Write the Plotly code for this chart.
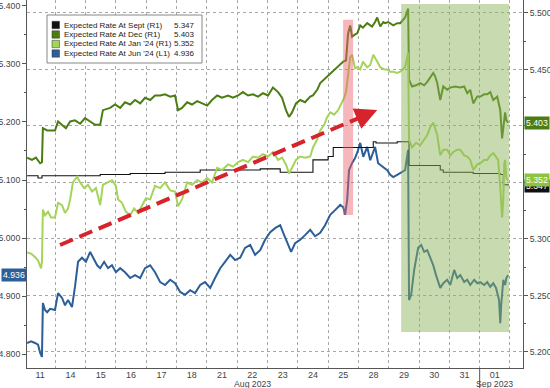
import plotly.graph_objects as go

# ---------------- data (trading-day index, value) ----------------
day_labels = ["11", "14", "15", "16", "17", "18", "21", "22", "23", "24", "25", "28", "29", "30", "31", "01"]
month_labels = {7: "Aug 2023", 15: "Sep 2023"}

right_ticks = [5.20, 5.25, 5.30, 5.35, 5.40, 5.45, 5.50]
right_ticktext = ["5.200", "5.250", "5.300", "", "", "5.450", "5.500"]  # 5.350/5.400 sit under value tags

series_names = ["Expected Rate At Sept (R1)", "Expected Rate At Dec (R1)",
                "Expected Rate At Jan '24 (R1)", "Expected Rate At Jun '24 (L1)"]
last_values = ["5.347", "5.403", "5.352", "4.936"]

t_sep = [0.07, 0.43, 0.56, 2.48, 3.47, 4.62, 5.78, 7.76, 8.42, 9.50, 10.0, 10.17, 10.73,
         11.49, 11.58, 12.28, 12.67, 13.70, 13.80, 14.79, 15.68, 15.78, 15.94]
sep = [5.356, 5.354, 5.356, 5.357, 5.358, 5.359, 5.361, 5.362, 5.359, 5.370, 5.373, 5.381, 5.381,
       5.386, 5.385, 5.386, 5.365, 5.361, 5.359, 5.358, 5.357, 5.348, 5.347]

t_dec = [0.07, 0.23, 0.36, 0.50, 0.56, 0.59, 0.73, 0.99, 1.09, 1.22, 1.35, 1.49, 1.65, 1.82, 1.98,
         2.15, 2.31, 2.48, 2.57, 2.81, 2.97, 3.14, 3.30, 3.47, 3.63, 3.80, 3.96, 4.13, 4.29, 4.46,
         4.62, 4.79, 4.95, 5.05, 5.18, 5.35, 5.51, 5.68, 5.84, 6.01, 6.17, 6.34, 6.50, 6.70, 6.86,
         7.03, 7.19, 7.36, 7.52, 7.69, 7.85, 8.02, 8.18, 8.35, 8.48, 8.61, 8.71, 8.81, 8.94, 9.08,
         9.24, 9.41, 9.50, 9.64, 9.74, 9.90, 10.07, 10.23, 10.30, 10.40, 10.50, 10.59, 10.66, 10.73,
         10.79, 10.89, 10.96, 11.06, 11.15, 11.29, 11.45, 11.55, 11.62, 11.72, 11.82, 11.88, 11.98,
         12.15, 12.28, 12.38, 12.48, 12.54, 12.64, 12.67, 12.77, 12.90, 13.04, 13.17, 13.27, 13.37,
         13.47, 13.53, 13.60, 13.70, 13.80, 13.93, 14.03, 14.19, 14.36, 14.49, 14.59, 14.69, 14.79,
         14.92, 15.02, 15.15, 15.25, 15.35, 15.45, 15.58, 15.68, 15.74, 15.81, 15.84, 15.88, 15.94]
dec = [5.372, 5.370, 5.372, 5.367, 5.368, 5.398, 5.396, 5.396, 5.404, 5.401, 5.398, 5.404, 5.405, 5.402, 5.407,
       5.404, 5.401, 5.401, 5.414, 5.416, 5.419, 5.416, 5.421, 5.419, 5.423, 5.420, 5.425, 5.423, 5.427, 5.427,
       5.428, 5.426, 5.427, 5.414, 5.416, 5.421, 5.419, 5.422, 5.420, 5.418, 5.423, 5.427, 5.425, 5.427, 5.425,
       5.427, 5.430, 5.427, 5.428, 5.426, 5.429, 5.427, 5.434, 5.430, 5.425, 5.414, 5.408, 5.412, 5.420, 5.423,
       5.421, 5.426, 5.427, 5.432, 5.438, 5.442, 5.446, 5.450, 5.452, 5.455, 5.457, 5.458, 5.482, 5.489,
       5.479, 5.481, 5.482, 5.489, 5.487, 5.491, 5.488, 5.492, 5.496, 5.488, 5.492, 5.491, 5.492,
       5.489, 5.491, 5.491, 5.494, 5.496, 5.504, 5.441, 5.435, 5.436, 5.438, 5.436, 5.439, 5.443,
       5.447, 5.444, 5.438, 5.423, 5.435, 5.432, 5.434, 5.435, 5.434, 5.435, 5.429, 5.432, 5.420,
       5.426, 5.426, 5.428, 5.428, 5.430, 5.423, 5.426, 5.414, 5.389, 5.405, 5.412, 5.405, 5.403]

t_jan = [0.07, 0.20, 0.33, 0.43, 0.53, 0.56, 0.59, 0.66, 0.76, 0.86, 0.99, 1.09, 1.22, 1.32, 1.42, 1.49,
         1.58, 1.72, 1.82, 1.95, 2.08, 2.21, 2.34, 2.48, 2.57, 2.71, 2.87, 3.00, 3.07, 3.20, 3.33, 3.47,
         3.60, 3.73, 3.86, 3.99, 4.13, 4.29, 4.46, 4.62, 4.79, 4.95, 5.05, 5.18, 5.35, 5.51, 5.68, 5.84,
         6.01, 6.17, 6.34, 6.50, 6.70, 6.86, 7.03, 7.19, 7.36, 7.52, 7.69, 7.85, 8.02, 8.18, 8.35, 8.48,
         8.61, 8.71, 8.81, 8.94, 9.08, 9.24, 9.41, 9.50, 9.64, 9.74, 9.87, 9.97, 10.07, 10.20, 10.33,
         10.43, 10.53, 10.59, 10.66, 10.73, 10.79, 10.89, 10.96, 11.06, 11.15, 11.29, 11.39, 11.49,
         11.62, 11.72, 11.85, 11.95, 12.05, 12.15, 12.28, 12.38, 12.54, 12.64, 12.67, 12.77, 12.90,
         13.04, 13.17, 13.27, 13.37, 13.47, 13.53, 13.60, 13.70, 13.80, 13.93, 14.03, 14.13, 14.26,
         14.36, 14.49, 14.59, 14.69, 14.79, 14.92, 15.02, 15.15, 15.25, 15.35, 15.45, 15.54, 15.61,
         15.68, 15.74, 15.78, 15.81, 15.84, 15.88, 15.94]
jan = [5.288, 5.287, 5.284, 5.281, 5.274, 5.280, 5.326, 5.321, 5.324, 5.319, 5.319, 5.332, 5.330, 5.323, 5.327, 5.335,
       5.350, 5.355, 5.350, 5.345, 5.348, 5.342, 5.345, 5.330, 5.348, 5.350, 5.352, 5.347, 5.335, 5.332, 5.324, 5.321,
       5.327, 5.323, 5.330, 5.336, 5.335, 5.347, 5.345, 5.350, 5.343, 5.342, 5.329, 5.335, 5.350, 5.348, 5.352, 5.350,
       5.354, 5.350, 5.363, 5.361, 5.366, 5.364, 5.368, 5.370, 5.368, 5.373, 5.372, 5.375, 5.373, 5.377, 5.370, 5.372,
       5.366, 5.358, 5.363, 5.370, 5.373, 5.372, 5.373, 5.381, 5.388, 5.396, 5.401, 5.408, 5.412, 5.410, 5.414,
       5.419, 5.425, 5.430, 5.445, 5.461, 5.463, 5.451, 5.452, 5.450, 5.457, 5.452, 5.454, 5.463,
       5.457, 5.452, 5.450, 5.450, 5.448, 5.448, 5.447, 5.448, 5.452, 5.465, 5.388, 5.381, 5.385,
       5.383, 5.388, 5.392, 5.399, 5.403, 5.398, 5.392, 5.374, 5.379, 5.379, 5.374, 5.377, 5.379,
       5.379, 5.374, 5.373, 5.370, 5.361, 5.366, 5.367, 5.370, 5.370, 5.374, 5.376, 5.372, 5.370,
       5.346, 5.319, 5.335, 5.366, 5.370, 5.354, 5.352]

t_jun = [0.07, 0.20, 0.33, 0.43, 0.50, 0.56, 0.59, 0.66, 0.73, 0.83, 0.99, 1.09, 1.22, 1.32, 1.42, 1.55,
         1.65, 1.75, 1.88, 2.01, 2.15, 2.28, 2.38, 2.48, 2.61, 2.74, 2.87, 3.00, 3.14, 3.30, 3.47, 3.63,
         3.80, 3.96, 4.13, 4.29, 4.46, 4.62, 4.79, 4.95, 5.12, 5.28, 5.45, 5.61, 5.78, 5.94, 6.11, 6.27,
         6.44, 6.60, 6.77, 6.93, 7.10, 7.26, 7.43, 7.59, 7.76, 7.92, 8.09, 8.25, 8.42, 8.55, 8.68, 8.78,
         8.91, 9.08, 9.24, 9.41, 9.57, 9.74, 9.90, 10.07, 10.23, 10.40, 10.50, 10.56, 10.63, 10.69,
         10.79, 10.89, 10.96, 11.06, 11.16, 11.29, 11.39, 11.55, 11.65, 11.82, 11.95, 12.05, 12.15,
         12.28, 12.38, 12.54, 12.64, 12.67, 12.74, 12.84, 12.97, 13.07, 13.17, 13.27, 13.37, 13.47,
         13.56, 13.70, 13.80, 13.93, 14.03, 14.16, 14.26, 14.36, 14.49, 14.59, 14.69, 14.82, 14.92,
         15.02, 15.15, 15.25, 15.35, 15.45, 15.54, 15.64, 15.68, 15.71, 15.78, 15.84, 15.88, 15.94]
jun = [4.819, 4.822, 4.819, 4.816, 4.802, 4.795, 4.888, 4.876, 4.872, 4.878, 4.876, 4.905, 4.897, 4.884, 4.893, 4.881,
       4.916, 4.959, 4.966, 4.959, 4.976, 4.962, 4.953, 4.948, 4.959, 4.948, 4.953, 4.941, 4.948, 4.941, 4.931, 4.936,
       4.931, 4.948, 4.953, 4.941, 4.924, 4.919, 4.928, 4.922, 4.907, 4.902, 4.910, 4.905, 4.919, 4.924, 4.914, 4.931,
       4.948, 4.959, 4.971, 4.962, 4.966, 4.983, 4.988, 4.971, 4.979, 4.997, 5.010, 5.017, 5.022, 5.005, 4.988, 4.976,
       4.991, 4.997, 5.005, 5.014, 5.003, 5.009, 5.022, 5.040, 5.048, 5.057, 5.053, 5.040, 5.066, 5.117,
       5.129, 5.138, 5.147, 5.164, 5.140, 5.157, 5.134, 5.157, 5.129, 5.122, 5.117, 5.109, 5.105,
       5.109, 5.112, 5.117, 5.152, 4.893, 4.902, 4.945, 4.983, 4.988, 4.976, 4.979, 4.966, 4.953,
       4.936, 4.914, 4.922, 4.928, 4.919, 4.945, 4.931, 4.936, 4.924, 4.928, 4.919, 4.928, 4.922,
       4.924, 4.919, 4.924, 4.916, 4.922, 4.914, 4.893, 4.853, 4.884, 4.928, 4.919, 4.931, 4.936]

# ---------------- styles ----------------
C_SEP, C_DEC, C_JAN, C_JUN = "#111111", "#4b7d12", "#a4d45a", "#2c5f97"
FONT = "Liberation Sans"
GRID = "#a8a8a8"
AXC = "#555555"
TXT = "#444444"

fig = go.Figure()
fig.add_trace(go.Scatter(x=t_sep, y=sep, yaxis="y2", mode="lines",
                         line=dict(color=C_SEP, width=1.1, shape="hv"), showlegend=False))
fig.add_trace(go.Scatter(x=t_dec, y=dec, yaxis="y2", mode="lines",
                         line=dict(color=C_DEC, width=2), showlegend=False))
fig.add_trace(go.Scatter(x=t_jan, y=jan, yaxis="y2", mode="lines",
                         line=dict(color=C_JAN, width=2), showlegend=False))
fig.add_trace(go.Scatter(x=t_jun, y=jun, yaxis="y", mode="lines",
                         line=dict(color=C_JUN, width=2), showlegend=False))

tickvals = [i + 0.5 for i in range(len(day_labels))]

fig.update_layout(
    template="none",
    width=550, height=388,
    margin=dict(l=27, r=27, t=0, b=20, pad=0),
    paper_bgcolor="white", plot_bgcolor="white",
    font=dict(family=FONT, size=9, color=TXT),
    hovermode=False,
    xaxis=dict(range=[0.066, 16.43], tickmode="array", tickvals=tickvals, ticktext=day_labels,
               ticks="", ticklen=0, showgrid=False, zeroline=False, showline=True, linecolor=AXC,
               automargin=False, ticklabelstandoff=-2,
               tickfont=dict(family=FONT, size=9, color=TXT),
               minor=dict(tick0=0, dtick=1, showgrid=True, griddash="dot", gridcolor=GRID, gridwidth=1)),
    yaxis=dict(range=[4.7759, 5.4103], tick0=4.8, dtick=0.1, tickformat=".3f", ticks="outside",
               ticklen=4, tickcolor=AXC, showgrid=False, zeroline=False, showline=True, linecolor=AXC,
               automargin=False, tickfont=dict(family=FONT, size=8.7, color=TXT),
               minor=dict(dtick=0.05, tick0=4.8, ticks="outside", ticklen=2, tickcolor=AXC)),
    yaxis2=dict(range=[5.1858, 5.5115], overlaying="y", side="right", tickmode="array",
                tickvals=right_ticks, ticktext=right_ticktext, ticks="outside", ticklen=4,
                tickcolor=AXC, showgrid=True, griddash="dot", gridcolor=GRID, zeroline=False,
                showline=True, linecolor=AXC, automargin=False,
                tickfont=dict(family=FONT, size=8.7, color=TXT),
                minor=dict(dtick=0.025, tick0=5.2, ticks="outside", ticklen=2, tickcolor=AXC)),
)

shapes = []
# highlight bands (drawn above lines, semi-transparent)
shapes.append(dict(type="rect", xref="x", yref="paper", x0=10.495, x1=10.825, y0=0.416, y1=0.946,
                   fillcolor="rgb(232,95,105)", opacity=0.45, line=dict(width=0), layer="above"))
shapes.append(dict(type="rect", xref="x", yref="paper", x0=12.41, x1=15.97, y0=0.098, y1=0.989,
                   fillcolor="rgb(140,180,90)", opacity=0.48, line=dict(width=0), layer="above"))
# month boundary tick
shapes.append(dict(type="line", xref="x", yref="paper", x0=15, x1=15, y0=0, y1=-0.058,
                   line=dict(color=AXC, width=1)))
# red dashed trend arrow
shapes.append(dict(type="line", xref="x", yref="y", x0=1.155, y0=4.988, x1=11.2, y1=5.211,
                   line=dict(color="#d6232c", width=4, dash="14px,7px"), layer="above"))


def px_x(p):
    return (p - 27) / 496.0


def px_y(p):
    return 1 - p / 368.0


# legend box
shapes.append(dict(type="rect", xref="paper", yref="paper", x0=px_x(47), x1=px_x(202),
                   y0=px_y(63), y1=px_y(15), fillcolor="white", line=dict(color="#888", width=1),
                   layer="above"))
rows = [25, 34.5, 44, 53.5]
colors = [C_SEP, C_DEC, C_JAN, C_JUN]
annotations = []
for r, c, name, val in zip(rows, colors, series_names, last_values):
    shapes.append(dict(type="rect", xref="paper", yref="paper", x0=px_x(52), x1=px_x(59.5),
                       y0=px_y(r + 3.7), y1=px_y(r - 3.7), fillcolor=c,
                       line=dict(color="#333", width=0.5), layer="above"))
    annotations.append(dict(xref="paper", yref="paper", x=px_x(61.5), y=px_y(r), text=name,
                            showarrow=False, xanchor="left", yanchor="middle",
                            font=dict(family=FONT, size=8, color="#222")))
    annotations.append(dict(xref="paper", yref="paper", x=px_x(197), y=px_y(r), text=val,
                            showarrow=False, xanchor="right", yanchor="middle",
                            font=dict(family=FONT, size=8, color="#222")))

# month labels under the day ticks
for i, m in month_labels.items():
    annotations.append(dict(xref="x", yref="paper", x=i + 0.5, y=px_y(383.5), text=m, showarrow=False,
                            xanchor="center", yanchor="middle", font=dict(family=FONT, size=8.7, color=TXT)))

# arrow head
annotations.append(dict(xref="x", yref="y", x=11.62, y=5.2207, ax=-14, ay=6, showarrow=True,
                        arrowhead=2, arrowsize=1.1, arrowwidth=4, arrowcolor="#d6232c", text=""))

# axis value tags
annotations.append(dict(xref="paper", yref="y", x=0, y=float(last_values[3]), text=last_values[3],
                        showarrow=False, xanchor="right", yanchor="middle", bgcolor=C_JUN,
                        borderpad=1, font=dict(family=FONT, size=8.7, color="white")))
annotations.append(dict(xref="paper", yref="y2", x=1, y=float(last_values[0]), text=last_values[0],
                        showarrow=False, xanchor="left", yanchor="middle", bgcolor=C_SEP,
                        borderpad=1, xshift=1, font=dict(family=FONT, size=8.7, color="white")))
annotations.append(dict(xref="paper", yref="y2", x=1, y=float(last_values[2]), text=last_values[2],
                        showarrow=False, xanchor="left", yanchor="middle", bgcolor="#8cc43f",
                        borderpad=1, xshift=1, font=dict(family=FONT, size=8.7, color="white")))
annotations.append(dict(xref="paper", yref="y2", x=1, y=float(last_values[1]), text=last_values[1],
                        showarrow=False, xanchor="left", yanchor="middle", bgcolor=C_DEC,
                        borderpad=1, xshift=1, font=dict(family=FONT, size=8.7, color="white")))

fig.update_layout(shapes=shapes, annotations=annotations)
fig.write_html("out.html", config={"displayModeBar": False},
               post_script="document.body.style.margin='0';")
